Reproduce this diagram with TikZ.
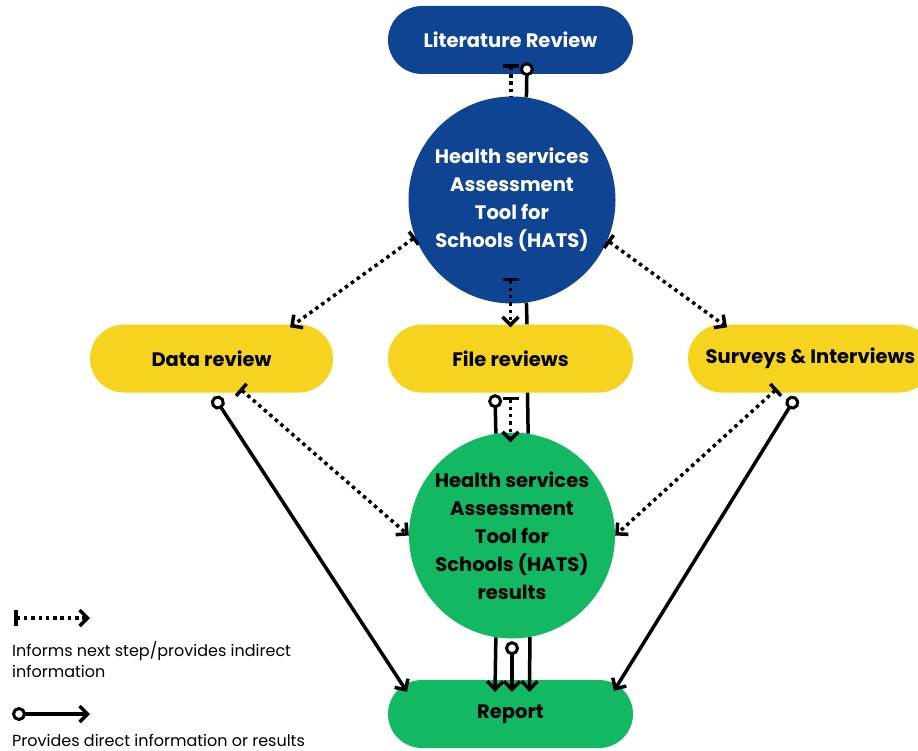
\documentclass[tikz,border=0pt]{standalone}
\usepackage{fontspec}
\setmainfont{Poppins}
\usetikzlibrary{positioning, arrows.meta, calc, shapes.misc}
\definecolor{hatsblue}{HTML}{0E4491}
\definecolor{hatsyellow}{HTML}{F6D31F}
\definecolor{hatsgreen}{HTML}{13B862}

\begin{document}
\begin{tikzpicture}[x=1pt, y=-1pt,
  pill/.style={rounded rectangle, draw=none, minimum width=245pt, minimum height=68pt, inner sep=0pt, font=\fontsize{19.5}{22}\selectfont\bfseries},
  disc/.style={circle, draw=none, minimum size=207pt, inner sep=0pt, align=center, font=\fontsize{19.5}{28}\selectfont\bfseries},
  legend/.style={inner sep=0pt, align=left, font=\fontsize{16}{21}\selectfont},
  dotline/.style={line width=3.5pt, dash pattern=on 3.5pt off 3.8pt},
  solidline/.style={line width=3.5pt},
  informs/.style={dotline, {Bar[width=16pt]}-{Straight Barb[length=8pt,width=16pt]}},
  provides/.style={solidline, {Circle[open,fill=white,length=14pt,width=14pt,line width=3pt]}-{Straight Barb[length=8pt,width=16pt]}},
  ]
  \useasboundingbox (0,0) rectangle (918,751);
  % nodes
  \node[pill, fill=hatsblue, text=white] (lit) at (510.5,40) {Literature Review};
  \node[disc, fill=hatsblue, text=white] (hats) at (512,200) {Health services\\Assessment\\Tool for\\Schools (HATS)};
  \node[pill, fill=hatsyellow, minimum width=243pt] (data) at (211.5,358.5) {Data review};
  \node[pill, fill=hatsyellow] (file) at (510.5,358.5) {File reviews};
  \node[pill, fill=hatsyellow] (surv) at (810.5,358.5) {Surveys \& Interviews};
  \node[disc, fill=hatsgreen, minimum size=206pt] (res) at (512,535.5) {Health services\\Assessment\\Tool for\\Schools (HATS)\\results};
  \node[pill, fill=hatsgreen] (rep) at (510.5,714) {Report};
  % literature review -> HATS
  \draw[dotline, {Bar[width=16pt]}-] ($(lit.south)+(0.5,-10)$) -- ($(hats.north)+(-1,0)$);
  \draw[solidline, {Circle[open,fill=white,length=14pt,width=14pt,line width=3pt]}-] ($(lit.south)+(16.5,-12)$) -- (hats.82);
  % HATS -> data sources
  \draw[informs] (hats.201) -- ($(data.north)+(78.5,3)$);
  \draw[informs] ($(hats.south)+(-1.5,-26)$) -- ($(file.north)+(0,3)$);
  \draw[solidline] (hats.-82) -- ($(file.north)+(16.5,0)$);
  \draw[informs] (hats.-23) -- ($(surv.north)+(-83.5,3)$);
  % data sources -> results
  \draw[informs] ($(data.south)+(28.5,-4)$) -- (res.west);
  \draw[informs] ($(file.south)+(0,4)$) -- ($(res.north)+(-1.5,10)$);
  \draw[solidline] ($(file.south)+(17,0)$) -- (res.81);
  \draw[solidline, {Circle[open,fill=white,length=14pt,width=14pt,line width=3pt]}-] ($(file.south)+(-15.5,1.5)$) -- (res.99);
  \draw[informs] ($(surv.south)+(-33.5,-4)$) -- (res.east);
  % -> report
  \draw[provides] ($(data.south)+(2.5,4)$) -- ($(rep.north)+(-103.5,12)$);
  \draw[solidline, -{Straight Barb[length=8pt,width=16pt]}] (res.-99) -- ($(rep.north)+(-15.5,12)$);
  \draw[provides] ($(res.south)+(0,2.5)$) -- ($(rep.north)+(1.5,12)$);
  \draw[solidline, -{Straight Barb[length=8pt,width=16pt]}] (res.-80) -- ($(rep.north)+(19,12)$);
  \draw[provides] ($(surv.south)+(-14.5,4)$) -- ($(rep.north)+(103.5,11)$);
  % legend
  \coordinate (keyA) at (14,618);
  \coordinate (keyB) at (90,618);
  \draw[informs] (keyA) -- (keyB);
  \node[legend, anchor=north west] (keytxtA) at (12,641) {Informs next step/provides indirect\\information};
  \coordinate (keyC) at (12,714);
  \coordinate (keyD) at (90,714);
  \draw[provides] (keyC) -- (keyD);
  \node[legend, anchor=north west] (keytxtB) at (12,734) {Provides direct information or results};
\end{tikzpicture}
\end{document}
